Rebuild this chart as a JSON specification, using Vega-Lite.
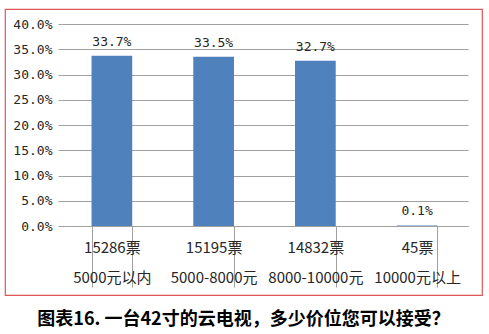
{
  "$schema": "https://vega.github.io/schema/vega-lite/v6.json",
  "width": 477,
  "height": 286,
  "padding": {"left": 5, "top": 9, "right": 7, "bottom": 8},
  "autosize": {"type": "pad"},
  "background": "#ffffff",
  "data": {
    "values": [
      {"category": "15286票\n5000元以内", "share": 0.337},
      {"category": "15195票\n5000-8000元", "share": 0.335},
      {"category": "14832票\n8000-10000元", "share": 0.327},
      {"category": "45票\n10000元以上", "share": 0.001}
    ]
  },
  "title": {
    "text": "图表16. 一台42寸的云电视，多少价位您可以接受？",
    "orient": "bottom",
    "anchor": "middle",
    "frame": "group",
    "font": "Noto Sans CJK SC",
    "fontSize": 18,
    "fontWeight": "bold",
    "color": "#000000",
    "offset": 16
  },
  "encoding": {
    "x": {
      "field": "category",
      "type": "nominal",
      "sort": null,
      "scale": {"range": [56, 463], "paddingInner": 0.6, "paddingOuter": 0.3},
      "axis": {
        "title": null,
        "orient": "bottom",
        "offset": -69,
        "labelAngle": 0,
        "labelExpr": "isString(datum.value) && indexof(datum.value, '\\n') >= 0 ? split(datum.value, '\\n') : ''",
        "labelFont": "Noto Sans CJK SC",
        "labelFontSize": 15,
        "labelColor": "#262626",
        "labelLineHeight": 30,
        "labelPadding": -47,
        "tickBand": "extent",
        "tickSize": 61,
        "tickColor": "#a0a0a0",
        "domainColor": "#a0a0a0",
        "grid": false
      }
    },
    "y": {
      "field": "share",
      "type": "quantitative",
      "scale": {"domain": [0, 0.4], "range": [217, 15], "nice": false, "zero": true},
      "axis": {
        "title": null,
        "orient": "left",
        "offset": -56,
        "values": [0, 0.05, 0.1, 0.15, 0.2, 0.25, 0.3, 0.35, 0.4],
        "format": ".1%",
        "domain": false,
        "tickSize": 3,
        "tickColor": "#a0a0a0",
        "gridColor": "#a0a0a0",
        "grid": true,
        "labelFont": "DejaVu Sans Mono",
        "labelFontSize": 13,
        "labelColor": "#262626",
        "labelPadding": 6
      }
    }
  },
  "layer": [
    {"mark": {"type": "bar", "color": "#4f81bd"}},
    {
      "mark": {"type": "text", "dy": -10, "baseline": "alphabetic", "font": "DejaVu Sans Mono", "fontSize": 13, "color": "#262626"},
      "encoding": {"text": {"field": "share", "type": "quantitative", "format": ".1%"}}
    }
  ],
  "config": {"view": {"stroke": "#e05555", "strokeWidth": 1.2}}
}
